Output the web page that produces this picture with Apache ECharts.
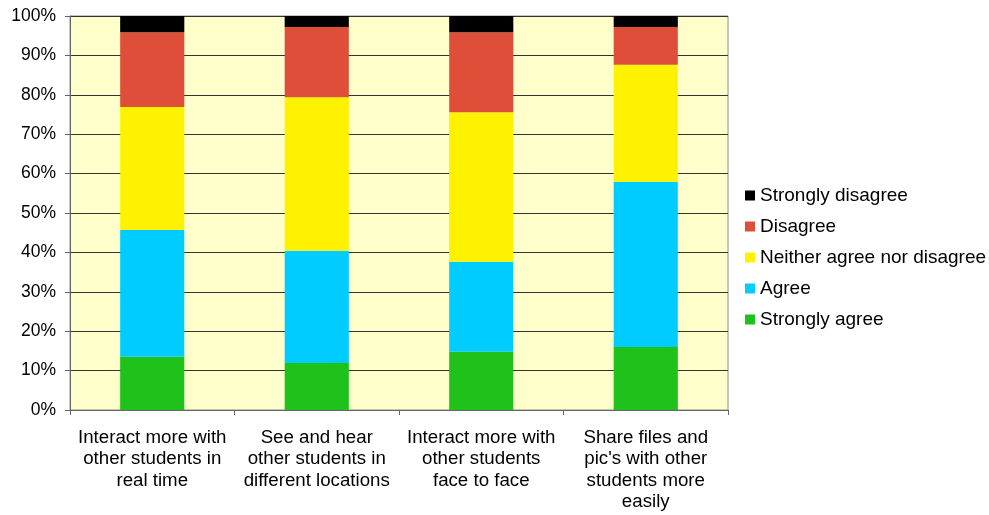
<!DOCTYPE html>
<html>
<head>
<meta charset="utf-8">
<script src="https://cdn.jsdelivr.net/npm/echarts@6/dist/echarts.min.js"></script>
<style>
  html, body { margin: 0; padding: 0; background: #fff; }
  #chart { width: 989px; height: 515px; }
</style>
</head>
<body>
<div id="chart"></div>
<script>
const categories = [
  "Interact more with\nother students in\nreal time",
  "See and hear\nother students in\ndifferent locations",
  "Interact more with\nother students\nface to face",
  "Share files and\npic's with other\nstudents more\neasily",
];
const stronglyAgree = [13.5, 11.9, 14.8, 16.0];
const agree = [32.2, 28.5, 22.8, 41.9];
const neither = [31.2, 39.0, 38.0, 29.7];
const disagree = [19.0, 17.8, 20.3, 9.6];
const stronglyDisagree = [4.1, 2.8, 4.1, 2.8];
const legendOrder = ["Strongly disagree", "Disagree", "Neither agree nor disagree", "Agree", "Strongly agree"];

const font = "Liberation Sans, Arial, sans-serif";

function stackSeries(name, data, color) {
  return { name, type: "bar", stack: "total", data, barWidth: "39%", itemStyle: { color } };
}

const chart = echarts.init(document.getElementById("chart"));
chart.setOption({
  animation: false,
  textStyle: { fontFamily: font },
  grid: {
    left: 70, right: 261, top: 16, bottom: 105,
    show: true, backgroundColor: "#FFFFCC", borderColor: "#8c8c8c", borderWidth: 1,
  },
  legend: {
    orient: "vertical",
    left: 740, top: 181,
    itemWidth: 10, itemHeight: 10, itemGap: 12,
    icon: "rect",
    data: legendOrder,
    textStyle: { fontFamily: font, fontSize: 19, lineHeight: 18, color: "#000" },
  },
  xAxis: {
    type: "category",
    data: categories,
    axisLine: { lineStyle: { color: "#666" } },
    axisTick: { show: true, length: 5, lineStyle: { color: "#666" } },
    axisLabel: { fontFamily: font, fontSize: 18.7, color: "#000", lineHeight: 21.5, margin: 17, interval: 0 },
  },
  yAxis: {
    type: "value",
    min: 0, max: 100, interval: 10,
    axisLine: { show: true, lineStyle: { color: "#666" } },
    axisTick: { show: true, length: 5, lineStyle: { color: "#666" } },
    axisLabel: { fontFamily: font, fontSize: 17.5, color: "#000", margin: 14, formatter: "{value}%" },
    splitLine: { lineStyle: { color: "#333", width: 1 } },
  },
  series: [
    stackSeries("Strongly agree", stronglyAgree, "#1FC21A"),
    stackSeries("Agree", agree, "#00CCFF"),
    stackSeries("Neither agree nor disagree", neither, "#FEF200"),
    stackSeries("Disagree", disagree, "#DF4E38"),
    stackSeries("Strongly disagree", stronglyDisagree, "#000000"),
  ],
});
</script>
</body>
</html>
